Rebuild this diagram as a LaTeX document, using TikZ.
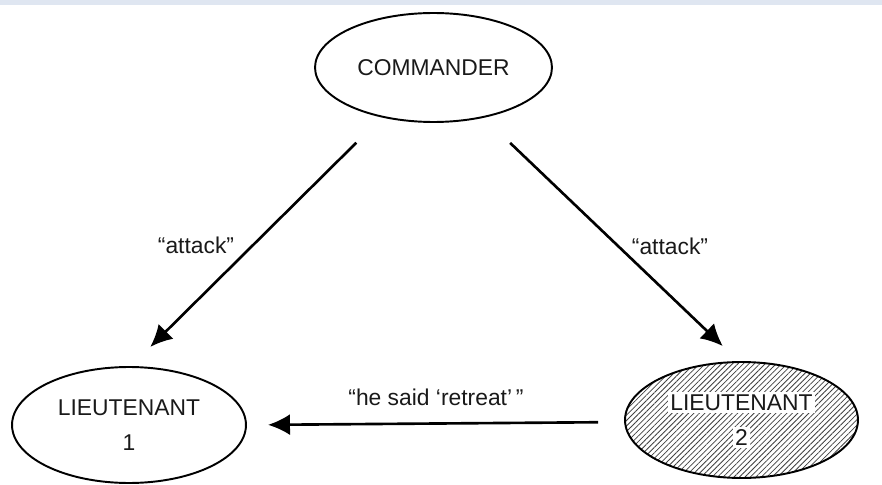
\documentclass[tikz,border=0pt]{standalone}
\usepackage{fontspec}
\setmainfont{Liberation Sans}
\usetikzlibrary{arrows.meta,patterns.meta,shapes.geometric}
\definecolor{bandblue}{RGB}{223,230,241}
\setlength{\fboxsep}{1.5pt}
\newcommand{\wbox}[1]{\colorbox{white}{#1}}
\tikzset{party/.style={ellipse,draw,line width=1.1pt,inner sep=0pt,outer sep=0pt,align=center,
    text=black!90,font=\fontsize{13}{20}\selectfont},
  order/.style={-{Latex[length=0.44cm,width=0.42cm]},line width=1.5pt},
  msg/.style={text=black!90,font=\fontsize{13}{15}\selectfont}}
\begin{document}
\begin{tikzpicture}[x=0.02cm,y=0.02cm]
\useasboundingbox (0,0) rectangle (882,484);
\fill[bandblue] (0,479) rectangle (882,484);
\node[party,minimum width=4.74cm,minimum height=2.18cm] (cmd) at (433.5,416.5) {COMMANDER};
\node[party,minimum width=4.68cm,minimum height=2.32cm] (lt1) at (129,59) {LIEUTENANT\\1};
\node[party,minimum width=4.66cm,minimum height=2.32cm,
  pattern={Lines[angle=45,distance=2.2pt,line width=0.45pt]},pattern color=black!75] (lt2) at (741.5,64) {\wbox{LIEUTENANT}\\\wbox{2}};
\draw[order,shorten <=0.74cm,shorten >=0.57cm] (cmd.224.6) -- (lt1.89.3);
\draw[order,shorten <=0.75cm,shorten >=0.46cm] (cmd.315.6) -- (lt2.92.8);
\draw[order,shorten <=0.54cm,shorten >=0.44cm] (lt2.181.5) -- (lt1.0.5);
\node[msg] (atk1) at (196,239) {``attack''}; \node[msg] (atk2) at (670,238) {``attack''};
\node[msg] (said) at (436,87) {``he said `retreat'\,''};
\end{tikzpicture}
\end{document}
